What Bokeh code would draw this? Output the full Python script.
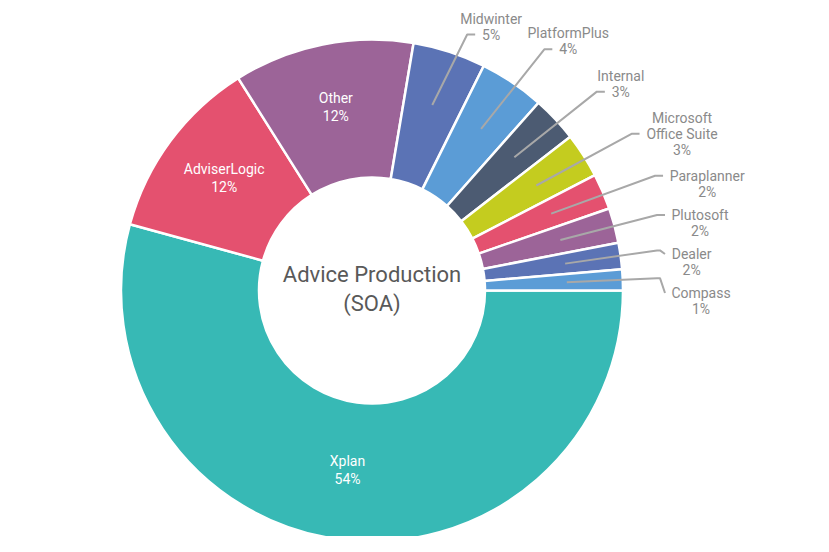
import math
from bokeh.plotting import figure
from bokeh.models import Range1d, ColumnDataSource
from bokeh.core.properties import value
from bokeh.embed import file_html
from bokeh.resources import INLINE

# ---------------- data ----------------
categories = ["Xplan", "AdviserLogic", "Other", "Midwinter", "PlatformPlus", "Internal",
              "Microsoft Office Suite", "Paraplanner", "Plutosoft", "Dealer", "Compass"]
shares = [54.25, 11.8, 11.6, 4.7, 4.2, 2.95, 2.9, 2.3, 2.25, 1.7, 1.35]
name_lines = [["Xplan"], ["AdviserLogic"], ["Other"], ["Midwinter"], ["PlatformPlus"], ["Internal"],
              ["Microsoft", "Office Suite"], ["Paraplanner"], ["Plutosoft"], ["Dealer"], ["Compass"]]
colors = ["#37b9b5", "#e4516f", "#9c6498", "#5b73b5", "#5b9cd6", "#4c5b72",
          "#c4cc1f", "#e4516f", "#9c6498", "#5b73b5", "#5b9cd6"]
title_lines = ["Advice Production", "(SOA)"]

# ---------------- layout ----------------
W, H = 813, 536
SCREEN_H = 552
CX, CY = 371.5, SCREEN_H - 290.0   # data coords (y up), 1 unit = 1 px
R_OUT, R_IN = 251, 113
FONT = "Roboto"
LBL_SIZE = 14
LH_OUT = 16
LH_IN = 18.5
IN_SHIFT = 3
GAP = 23
TOP_LIMIT = SCREEN_H - 10
RX_LBL, RY_LBL, MAX_DX = 308, 291, 285
TICK = 8
TEXT_PAD = 7

ADV = {'a': 1114, 'b': 1122, 'c': 1047, 'd': 1125, 'e': 1058, 'f': 695, 'g': 1120, 'h': 1103,
       'i': 487, 'j': 478, 'k': 1014, 'l': 487, 'm': 1753, 'n': 1105, 'o': 1141, 'p': 1122,
       'q': 1131, 'r': 678, 's': 1032, 't': 655, 'u': 1103, 'v': 969, 'w': 1504, 'x': 992,
       'y': 947, 'z': 992, 'A': 1336, 'C': 1302, 'D': 1346, 'I': 557, 'L': 1076, 'M': 1747,
       'O': 1377, 'P': 1294, 'S': 1216, 'X': 1288, '%': 1466, ' ': 507, '(': 700, ')': 712}


def text_w(s, size=LBL_SIZE):
    return sum(ADV.get(ch, 1150 if ch.isdigit() else 1100) for ch in s) / 2048 * size


total = sum(shares)
cum = []
acc = 0.0
for v in shares:
    cum.append(acc)
    acc += v

start_angles = [-2 * math.pi * c / total for c in cum]
end_angles = [-2 * math.pi * (c + v) / total for c, v in zip(cum, shares)]
mid_angles = [(a + b) / 2 for a, b in zip(start_angles, end_angles)]
pct_labels = [f"{round(v)}%" for v in shares]

p = figure(width=W, height=H, x_range=Range1d(0, W), y_range=Range1d(SCREEN_H - H, SCREEN_H),
           output_backend="svg", toolbar_location=None, min_border=0,
           x_axis_type=None, y_axis_type=None, outline_line_color=None,
           background_fill_color="white", border_fill_color="white")
p.grid.visible = False

src = ColumnDataSource(dict(start=start_angles, end=end_angles, color=colors, cat=categories))
p.annular_wedge(x=CX, y=CY, inner_radius=R_IN, outer_radius=R_OUT,
                start_angle="start", end_angle="end", direction="clock",
                fill_color="color", line_color="white", line_width=2.5, source=src)

# inside labels
in_x, in_y, in_t = [], [], []
outside = []
for i, v in enumerate(shares):
    lines = name_lines[i] + [pct_labels[i]]
    th = mid_angles[i]
    if v >= 10:
        r = (R_IN + R_OUT) / 2 + 2
        bx, by = CX + r * math.cos(th), CY + r * math.sin(th) + IN_SHIFT
        n = len(lines)
        for j, t in enumerate(lines):
            in_x.append(bx)
            in_y.append(by + ((n - 1) / 2 - j) * LH_IN)
            in_t.append(t)
    else:
        outside.append(i)

p.text(x=in_x, y=in_y, text=in_t, text_color="white", text_font=value(FONT),
       text_font_size=f"{LBL_SIZE}px", text_align="center", text_baseline="middle")

# outside labels
labels = []
for i in outside:
    lines = name_lines[i] + [pct_labels[i]]
    n = len(lines)
    th = mid_angles[i]
    deg = math.degrees(th) % 360
    t = min(max((deg - 20) / 20, 0), 1)
    k = int(round((n - 1) * t))
    by = CY + RY_LBL * math.sin(th)
    bx = CX + min(RX_LBL * math.cos(th), MAX_DX)
    lim = TOP_LIMIT - k * LH_OUT - LH_OUT / 2
    if by > lim:
        by = lim
    ex = bx + TICK
    cxt = ex + TEXT_PAD + text_w(lines[k]) / 2
    wmax = max(text_w(s) for s in lines)
    labels.append(dict(i=i, lines=lines, n=n, k=k, bx=bx, by=by, ex=ex, cx=cxt,
                       x0=cxt - wmax / 2, x1=cxt + wmax / 2, anchor=by, th=th))

labels.sort(key=lambda d: -d["anchor"])
placed = []
for d in labels:
    for q in placed:
        if d["x0"] < q["x1"] and q["x0"] < d["x1"]:
            q_last = q["anchor"] - (q["n"] - 1 - q["k"]) * LH_OUT
            d_first = d["anchor"] + d["k"] * LH_OUT
            if q_last - d_first < GAP:
                d["anchor"] = q_last - GAP - d["k"] * LH_OUT
    placed.append(d)

xs, ys = [], []
ox, oy, ot = [], [], []
for d in placed:
    th = d["th"]
    sx, sy = CX + 195 * math.cos(th), CY + 195 * math.sin(th)
    xs.append([sx, d["bx"], d["bx"] + 3, d["ex"]])
    ys.append([sy, d["by"], d["by"], d["anchor"]])
    for j, s in enumerate(d["lines"]):
        ox.append(d["cx"])
        oy.append(d["anchor"] - (j - d["k"]) * LH_OUT)
        ot.append(s)

p.multi_line(xs=xs, ys=ys, line_color="#a8a8a8", line_width=2)
p.text(x=ox, y=oy, text=ot, text_color="#8a8a8a", text_font=value(FONT),
       text_font_size=f"{LBL_SIZE}px", text_align="center", text_baseline="middle")

# centre title
tx = [CX] * len(title_lines)
ty = [CY + 1.5 + (len(title_lines) - 1) / 2 * 29 - j * 29 for j in range(len(title_lines))]
p.text(x=tx, y=ty, text=title_lines, text_color="#595959", text_font=value(FONT),
       text_font_size="22px", text_align="center", text_baseline="middle")

open("out.html", "w").write(file_html(p, INLINE))
